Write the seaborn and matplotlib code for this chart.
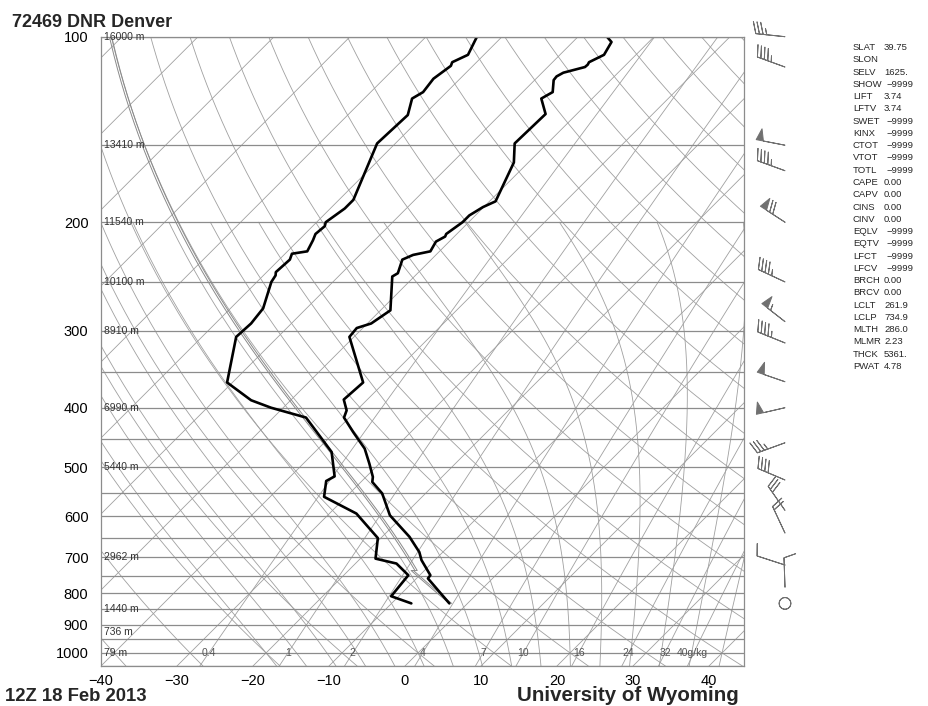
import numpy as np
import pandas as pd
import matplotlib
matplotlib.use('Agg')
import matplotlib.pyplot as plt
import seaborn as sns

# sounding 72469 DNR Denver, 12Z 18 Feb 2013
pres_t = [831, 757, 748, 707, 686, 648, 598, 551, 528, 518, 493, 466, 438, 415, 404, 388, 364,
          307, 297, 292, 278, 245, 242, 230, 226, 223, 215, 211, 209, 200, 195, 189, 185, 160,
          149, 133.5, 126, 123, 117.6, 116, 114.4, 112, 111, 110, 107, 102, 100]
temp = [-2.4, -8.5, -8.6, -11.75, -13.1, -16.4, -21.8, -25.7, -28.5, -29.1, -31.3, -33.9, -37.6,
        -40.7, -41.3, -43.1, -42.8, -50.6, -50.8, -49.5, -48.7, -52.9, -52.6, -53.8, -53.0, -51.2,
        -51.75, -51.2, -51.4, -50.8, -50.8, -50.1, -49.2, -51.9, -54.3, -54.1, -56.7, -56.05,
        -57.5, -57.6, -57.2, -55.1, -55.05, -55.2, -54.2, -54.9, -56.2]

pres_d = [831, 809, 748, 716, 703, 651, 594, 558, 526, 517, 472, 415, 400, 389, 364, 307, 292,
          276, 250, 244, 241, 230, 225, 223, 214, 209, 203, 200, 190, 184, 149, 134, 126, 123,
          117, 111.5, 110, 107, 100]
dwpt = [-7.4, -11.0, -11.5, -14.6, -18.0, -20.4, -26.45, -32.9, -34.7, -34.2, -37.8, -45.7, -51.6,
        -55.2, -60.7, -65.5, -65.3, -65.7, -68.1, -68.4, -68.8, -68.6, -69.1, -67.4, -68.1, -68.6,
        -68.4, -68.8, -68.1, -68.1, -72.4, -72.1, -73.7, -73.1, -73.5, -72.9, -73.2, -72.1, -73.3]

# winds: pressure (hPa), direction (deg), speed (kt)
wind_p = [100, 112, 150, 165, 200, 250, 290, 314, 363, 400, 456, 524, 587, 639, 720, 782, 831]
wind_dir = [276, 290, 281, 290, 303, 295, 308, 292, 289, 257, 250, 293, 325, 335, 288, 358, 0]
wind_spd = [35, 45, 50, 45, 70, 45, 55, 45, 50, 50, 35, 40, 30, 20, 10, 10, 0]

# mandatory level heights
hgt_p = [100, 150, 200, 250, 300, 400, 500, 700, 850, 925, 1000]
hgt_lbl = ['16000 m', '13410 m', '11540 m', '10100 m', '8910 m', '6990 m', '5440 m',
           '2962 m', '1440 m', '736 m', '79 m']

# station indices
idx_names = ['SLAT', 'SLON', 'SELV', 'SHOW', 'LIFT', 'LFTV', 'SWET', 'KINX', 'CTOT', 'VTOT',
             'TOTL', 'CAPE', 'CAPV', 'CINS', 'CINV', 'EQLV', 'EQTV', 'LFCT', 'LFCV', 'BRCH',
             'BRCV', 'LCLT', 'LCLP', 'MLTH', 'MLMR', 'THCK', 'PWAT']
idx_vals = ['39.75', '', '1625.', '\u22129999', '3.74', '3.74', '\u22129999', '\u22129999',
            '\u22129999', '\u22129999', '\u22129999', '0.00', '0.00', '0.00', '0.00',
            '\u22129999', '\u22129999', '\u22129999', '\u22129999', '0.00', '0.00', '261.9',
            '734.9', '286.0', '2.23', '5361.', '4.78']

mix_ratios = [0.4, 1, 2, 4, 7, 10, 16, 24, 32, 40]
mix_lbls = ['0.4', '1', '2', '4', '7', '10', '16', '24', '32', '40g/kg']
lcl_p, lcl_t = 734.9, 261.9 - 273.15

sns.set_style('white')
plt.rcParams['font.family'] = ['Liberation Sans', 'DejaVu Sans']

W, H = 929, 706
K = 35.2          # skew, degC per ln(p)
PBOT, PTOP = 1050, 100


def skew(t, p):
    return np.asarray(t) + K * np.log(PBOT / np.asarray(p, dtype=float))


def esat(tc):
    return 6.112 * np.exp(17.67 * tc / (tc + 243.5))


def moist_path(t0, p0, p1, n=400):
    # integrate saturated adiabat from (p0, t0 degC) to p1
    ps = np.geomspace(p0, p1, n)
    ts = [t0 + 273.15]
    for i in range(1, n):
        T = ts[-1]
        p = ps[i - 1]
        es = esat(T - 273.15)
        rs = 0.622 * es / (p - es)
        dtdp = (287.0 * T + 2.5e6 * rs) / (p * (1004.0 + 2.5e6 ** 2 * rs * 0.622 / (287.0 * T ** 2)))
        ts.append(T + dtdp * (ps[i] - p))
    return ps, np.array(ts) - 273.15


fig = plt.figure(figsize=(W / 100, H / 100), dpi=100)
ax = fig.add_axes([101 / W, (H - 666) / H, 643 / W, 629.3 / H])
ax.set_yscale('log')
ax.set_ylim(PBOT, PTOP)
ax.set_xlim(-40, -40 + 643 / 7.6)

gc = '#a0a0a0'
glw = 0.6
pp = np.geomspace(PBOT, PTOP, 200)

# isotherms
for t0 in range(-130, 50, 10):
    ax.plot(skew([t0, t0], [PBOT, PTOP]), [PBOT, PTOP], color=gc, lw=glw)

# dry adiabats
for th in range(-40, 200, 10):
    tt = (th + 273.15) * (pp / 1000.0) ** 0.286 - 273.15
    ax.plot(skew(tt, pp), pp, color=gc, lw=glw)

# saturated adiabats (lower part of the diagram only)
for tw in range(-20, 44, 4):
    pu, tu = moist_path(tw, 1000, 200)
    pd_, td_ = moist_path(tw, 1000, PBOT, n=20)
    ax.plot(skew(tu, pu), pu, color=gc, lw=glw)
    ax.plot(skew(td_, pd_), pd_, color=gc, lw=glw)

# mixing ratio lines
pm = np.geomspace(PBOT, PTOP, 80)
for w, lbl in zip(mix_ratios, mix_lbls):
    e = w * pm / (622.0 + w)
    a = np.log(e / 6.112)
    td = 243.5 * a / (17.67 - a)
    ax.plot(skew(td, pm), pm, color=gc, lw=glw)
    e0 = w * 1000 / (622.0 + w)
    a0 = np.log(e0 / 6.112)
    x0 = skew(243.5 * a0 / (17.67 - a0), 1000)
    ha = 'left' if lbl.endswith('kg') else 'center'
    if ha == 'left':
        x0 -= 2.3
    ax.text(x0, 1000, lbl, fontsize=7.5, color='#555555', ha=ha, va='center')

# isobars
for p in range(100, 1051, 50):
    ax.axhline(p, color='#8c8c8c', lw=0.9)

# parcel path (dry to LCL, then saturated) and its virtual temperature twin
p_dry = np.geomspace(pres_t[0], lcl_p, 20)
t_dry = (temp[0] + 273.15) * (p_dry / pres_t[0]) ** 0.286 - 273.15
p_mst, t_mst = moist_path(lcl_t, lcl_p, PTOP)
par_p = np.concatenate([p_dry, p_mst])
par_t = np.concatenate([t_dry, t_mst])
ax.plot(skew(par_t, par_p), par_p, color='#8a8a8a', lw=0.7)
ax.plot(skew(par_t, par_p) + 0.3, par_p, color='#8a8a8a', lw=0.7)

# temperature and dew point profiles
df_t = pd.DataFrame({'x': skew(temp, pres_t), 'p': pres_t})
df_d = pd.DataFrame({'x': skew(dwpt, pres_d), 'p': pres_d})
sns.lineplot(data=df_t, x='x', y='p', sort=False, estimator=None, color='black', lw=1.9, ax=ax)
sns.lineplot(data=df_d, x='x', y='p', sort=False, estimator=None, color='black', lw=1.9, ax=ax)

# height labels
for p, lbl in zip(hgt_p, hgt_lbl):
    ax.text(0.005, p, lbl, transform=ax.get_yaxis_transform(), fontsize=7.5,
            color='#333333', ha='left', va='center')

ax.set_xlabel('')
ax.set_ylabel('')
ax.set_yticks([100, 200, 300, 400, 500, 600, 700, 800, 900, 1000])
ax.set_yticklabels(['100', '200', '300', '400', '500', '600', '700', '800', '900', '1000'])
ax.yaxis.set_minor_locator(matplotlib.ticker.NullLocator())
ax.set_xticks(range(-40, 41, 10))
ax.set_xticklabels([str(v).replace('-', '\u2212') for v in range(-40, 41, 10)])
ax.tick_params(axis='both', length=0, labelsize=10.5, colors='black')
ax.tick_params(axis='y', pad=9)
ax.tick_params(axis='x', pad=6)
for s in ax.spines.values():
    s.set_color('#8c8c8c')
    s.set_linewidth(0.9)

# wind barbs
axb = fig.add_axes([750 / W, (H - 666) / H, 80 / W, 629.3 / H])
axb.set_yscale('log')
axb.set_ylim(PBOT, PTOP)
axb.set_xlim(0, 80)
axb.axis('off')
rad = np.deg2rad(wind_dir)
u = -np.array(wind_spd) * np.sin(rad)
v = -np.array(wind_spd) * np.cos(rad)
axb.barbs(np.full(len(wind_p), 35.0), wind_p, u, v, length=6.5, lw=0.7, color='#707070',
          sizes=dict(emptybarb=0.2), clip_on=False)

# titles
fig.text(12 / W, 1 - 27 / H, '72469 DNR Denver', fontsize=13, fontweight='bold', va='baseline')
fig.text(5 / W, 1 - 701 / H, '12Z 18 Feb 2013', fontsize=13.3, fontweight='bold', va='baseline')
fig.text(517 / W, 1 - 701 / H, 'University of Wyoming', fontsize=14.8, fontweight='bold',
         va='baseline')

# index table
for i, (n, val) in enumerate(zip(idx_names, idx_vals)):
    y = 1 - (47.5 + i * 12.27) / H
    fig.text(853 / W, y, n, fontsize=6.8, va='center')
    xv = 884 if not val.startswith('\u2212') else 887
    fig.text(xv / W, y, val, fontsize=6.8, va='center')

fig.savefig('out.png', dpi=100)
